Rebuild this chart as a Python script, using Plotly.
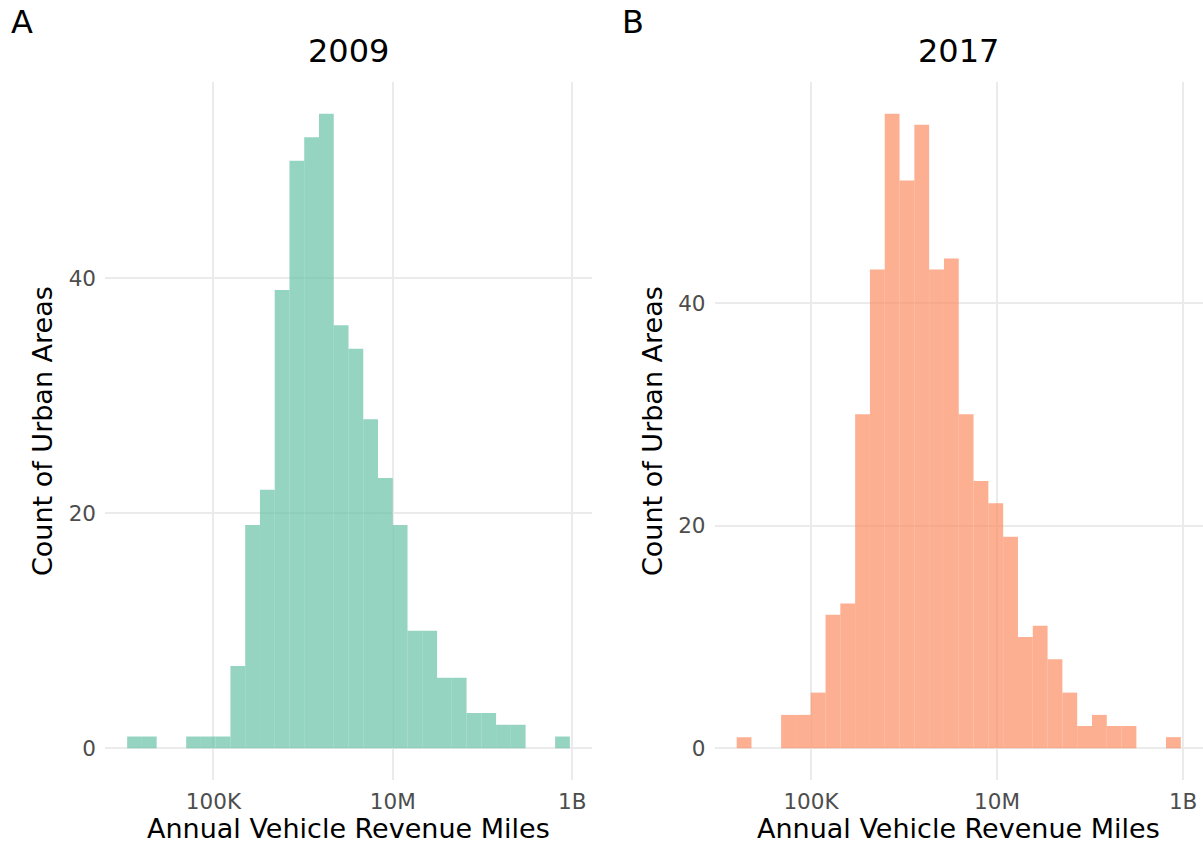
import plotly.graph_objects as go

# ---- data ----
counts_2009 = [1, 1, 0, 0, 1, 1, 1, 7, 19, 22, 39, 50, 52, 54, 36, 34, 28, 23, 19,
               10, 10, 6, 6, 3, 3, 2, 2, 0, 0, 1]
counts_2017 = [1, 0, 0, 3, 3, 5, 12, 13, 30, 43, 57, 51, 56, 43, 44, 30, 24, 22, 19,
               10, 11, 8, 5, 2, 3, 2, 2, 0, 0, 1]
# histogram bin span in log10(miles)
bins_2009 = (4.038, 8.974)
bins_2017 = (4.202, 8.975)
tick_vals = [5, 7, 9]
tick_text = ["100K", "10M", "1B"]
panel_titles = ["2009", "2017"]
panel_tags = ["A", "B"]
x_title = "Annual Vehicle Revenue Miles"
y_title = "Count of Urban Areas"

W, H = 1203, 846
FONT = "DejaVu Sans"
GREEN = "rgba(102,194,165,0.7)"
ORANGE = "rgba(252,141,98,0.7)"
GRID = "#ebebeb"


def bin_geometry(counts, span):
    lo, hi = span
    n = len(counts)
    w = (hi - lo) / n
    centers = [lo + w * (i + 0.5) for i in range(n)]
    return centers, w


fig = go.Figure()
for counts, span, color, xa, ya in [
    (counts_2009, bins_2009, GREEN, "x", "y"),
    (counts_2017, bins_2017, ORANGE, "x2", "y2"),
]:
    c, w = bin_geometry(counts, span)
    fig.add_trace(go.Bar(x=c, y=counts, width=w, marker=dict(color=color, line=dict(width=0)),
                         xaxis=xa, yaxis=ya, showlegend=False, hoverinfo="x+y"))


def xr(span):
    lo, hi = span
    pad = 0.05 * (hi - lo)
    return [lo - pad, hi + pad]


def yr(counts):
    m = max(counts)
    return [-0.05 * m, 1.05 * m]


ydom = [1 - 780 / H, 1 - 82 / H]
dom_l = [105 / W, 592 / W]
dom_r = [714.5 / W, 1.0]

xcommon = dict(tickvals=tick_vals, ticktext=tick_text, showgrid=True, gridcolor=GRID,
               gridwidth=1.6, zeroline=False, showline=False, ticks="",
               tickfont=dict(family=FONT, size=21.5, color="#4d4d4d"), ticklabelstandoff=6)
ycommon = dict(tickvals=[0, 20, 40], showgrid=True, gridcolor=GRID, gridwidth=1.6,
               zeroline=False, showline=False, ticks="",
               tickfont=dict(family=FONT, size=21.5, color="#4d4d4d"), ticklabelstandoff=8)

fig.update_layout(
    width=W, height=H,
    margin=dict(l=0, r=0, t=0, b=0),
    paper_bgcolor="white", plot_bgcolor="white",
    barmode="overlay",
    xaxis=dict(domain=dom_l, range=xr(bins_2009), anchor="y", **xcommon),
    yaxis=dict(domain=ydom, range=yr(counts_2009), anchor="x", **ycommon),
    xaxis2=dict(domain=dom_r, range=xr(bins_2017), anchor="y2", **xcommon),
    yaxis2=dict(domain=ydom, range=yr(counts_2017), anchor="x2", **ycommon),
    font=dict(family=FONT),
)

ann = []
centers_x = [(dom_l[0] + dom_l[1]) / 2, (dom_r[0] + dom_r[1]) / 2]
ytitle_x = [42 / W, 652 / W]
tag_x = [9 / W, 620 / W]
for i in range(2):
    ann.append(dict(text=panel_titles[i], x=centers_x[i], y=1 - 51 / H, xref="paper", yref="paper",
                    xanchor="center", yanchor="middle", showarrow=False,
                    font=dict(family=FONT, size=32, color="black")))
    ann.append(dict(text=x_title, x=centers_x[i], y=0, xref="paper", yref="paper",
                    xanchor="center", yanchor="bottom", showarrow=False,
                    font=dict(family=FONT, size=27, color="black")))
    ann.append(dict(text=y_title, x=ytitle_x[i], y=(ydom[0] + ydom[1]) / 2, xref="paper", yref="paper",
                    xanchor="center", yanchor="middle", textangle=-90, showarrow=False,
                    font=dict(family=FONT, size=27, color="black")))
    ann.append(dict(text=panel_tags[i], x=tag_x[i], y=1 - 22 / H, xref="paper", yref="paper",
                    xanchor="left", yanchor="middle", showarrow=False,
                    font=dict(family=FONT, size=32, color="black")))
fig.update_layout(annotations=ann)

fig.write_html("out.html", config={"displayModeBar": False},
               post_script="document.body.style.margin='0';")
